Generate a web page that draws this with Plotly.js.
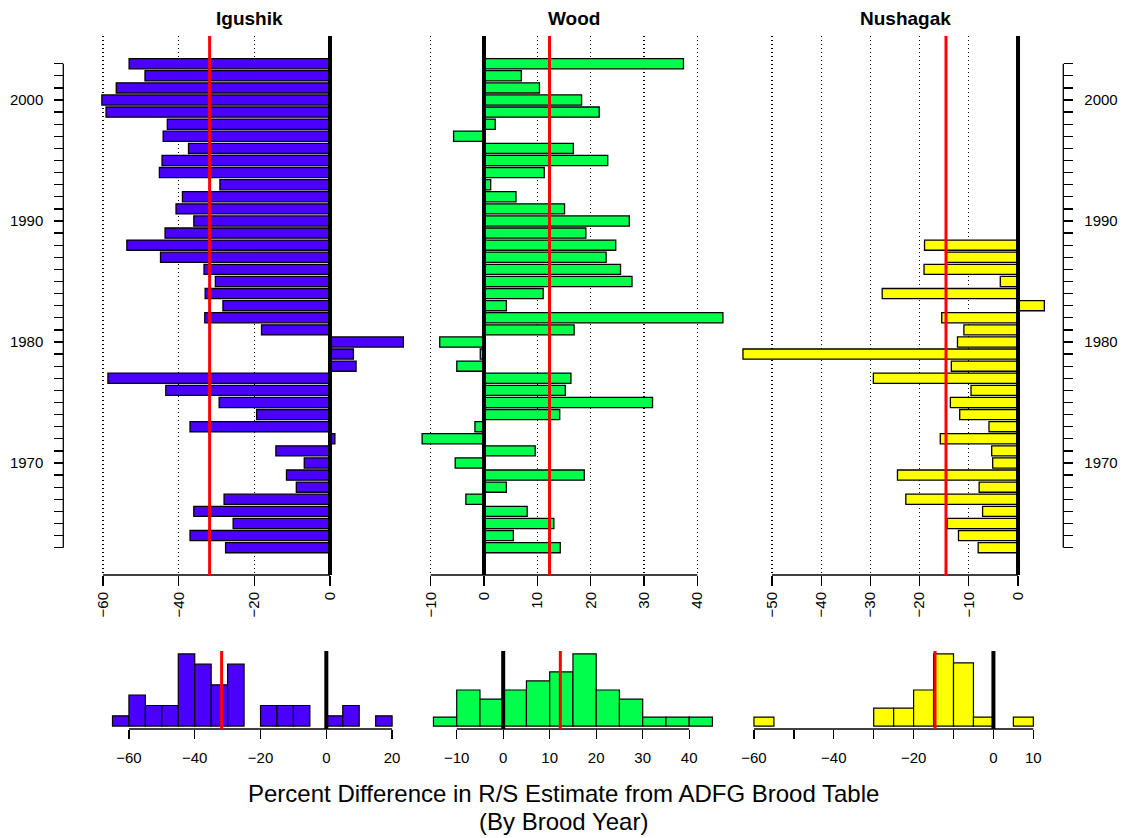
<!DOCTYPE html>
<html><head><meta charset="utf-8">
<script src="https://cdn.plot.ly/plotly-3.0.1.min.js"></script>
<style>body{margin:0;background:#fff;} #plot{width:1123px;height:838px;}</style>
</head><body><div id="plot"></div>
<script>
// ---- data (percent difference in R/S estimate by brood year) ----
const years = [2003,2002,2001,2000,1999,1998,1997,1996,1995,1994,1993,1992,1991,1990,1989,1988,1987,1986,1985,1984,1983,1982,1981,1980,1979,1978,1977,1976,1975,1974,1973,1972,1971,1970,1969,1968,1967,1966,1965,1964,1963];
const igushik = [-53.1,-48.9,-56.5,-60.3,-59.2,-43.0,-44.1,-37.4,-44.4,-45.1,-29.1,-39.0,-40.7,-36.0,-43.6,-53.7,-44.8,-33.3,-30.3,-33.0,-28.3,-33.1,-18.1,19.4,6.2,6.9,-58.7,-43.4,-29.3,-19.4,-37.0,1.3,-14.3,-6.8,-11.5,-8.9,-28.0,-36.0,-25.6,-37.0,-27.6];
const wood = [37.4,7.0,10.4,18.3,21.6,2.1,-5.7,16.75,23.2,11.3,1.25,6.0,15.1,27.25,19.1,24.7,22.9,25.6,27.75,11.1,4.2,44.8,16.9,-8.3,-0.7,-5.1,16.3,15.25,31.6,14.2,-1.7,-11.6,9.6,-5.4,18.8,4.2,-3.4,8.1,13.1,5.5,14.3];
const nushagakYears = [1988,1987,1986,1985,1984,1983,1982,1981,1980,1979,1978,1977,1976,1975,1974,1973,1972,1971,1970,1969,1968,1967,1966,1965,1964,1963];
const nushagak = [-19.0,-14.6,-19.1,-3.6,-27.6,5.35,-15.5,-11.0,-12.3,-55.9,-13.55,-29.4,-9.55,-13.75,-11.85,-5.9,-15.8,-5.35,-5.15,-24.5,-7.9,-22.8,-7.2,-14.4,-12.1,-8.1];
const panelTitles = ['Igushik','Wood','Nushagak'];
const yearLabels = [1970,1980,1990,2000];
const mainTicks = [[-60,-40,-20,0],[-10,0,10,20,30,40],[-50,-40,-30,-20,-10,0]];
const histTicks = [[-60,-40,-20,0,20],[-10,0,10,20,30,40],[-60,-50,-40,-30,-20,-10,0,10]];
const histTickText = [['\u221260','\u221240','\u221220','0','20'],['\u221210','0','10','20','30','40'],['\u221260','','\u221240','','\u221220','','0','10']];
const xLabel1 = 'Percent Difference in R/S Estimate from ADFG Brood Table';
const xLabel2 = '(By Brood Year)';

// ---- styling / layout helpers ----
const W = 1123, H = 838;
const px = v => v / W, py = v => 1 - v / H;
const colors = ['#4b00ff', '#00ff4d', '#ffff00'];
const FONT = 'Liberation Sans, Arial, Helvetica, sans-serif';
const mean = a => a.reduce((s, v) => s + v, 0) / a.length;
const series = [igushik, wood, nushagak];
const means = series.map(mean);

const mainTop = 36, mainBot = 575, histTop = 651, histBot = 729;

const traces = [
  {type:'bar', orientation:'h', x: igushik, y: years, xaxis:'x', yaxis:'y', width:0.84,
   marker:{color:colors[0], line:{color:'#000', width:1.3}}, hoverinfo:'skip'},
  {type:'bar', orientation:'h', x: wood, y: years, xaxis:'x2', yaxis:'y', width:0.84,
   marker:{color:colors[1], line:{color:'#000', width:1.3}}, hoverinfo:'skip'},
  {type:'bar', orientation:'h', x: nushagak, y: nushagakYears, xaxis:'x3', yaxis:'y2', width:0.84,
   marker:{color:colors[2], line:{color:'#000', width:1.3}}, hoverinfo:'skip'},
  {type:'histogram', x: igushik, xaxis:'x4', yaxis:'y3', autobinx:false, xbins:{start:-65,end:20,size:5},
   marker:{color:colors[0], line:{color:'#000', width:1.2}}, hoverinfo:'skip'},
  {type:'histogram', x: wood, xaxis:'x5', yaxis:'y4', autobinx:false, xbins:{start:-15,end:45,size:5},
   marker:{color:colors[1], line:{color:'#000', width:1.2}}, hoverinfo:'skip'},
  {type:'histogram', x: nushagak, xaxis:'x6', yaxis:'y5', autobinx:false, xbins:{start:-60,end:10,size:5},
   marker:{color:colors[2], line:{color:'#000', width:1.2}}, hoverinfo:'skip'}
];

const tickFont = {family: FONT, size: 15, color:'#000'};
function mainX(dom, range, ticks, anchor){
  return {domain:[px(dom[0]), px(dom[1])], range: range, anchor: anchor,
    tickmode:'array', tickvals: ticks, tickangle:-90, ticks:'outside', ticklen:10, tickwidth:1.3, tickcolor:'#000',
    showline:false, zeroline:false, showgrid:true, gridcolor:'#000', griddash:'1px,3px', gridwidth:1.2,
    tickfont: tickFont, fixedrange:true};
}
function histX(dom, range, ticks, text, anchor){
  return {domain:[px(dom[0]), px(dom[1])], range: range, anchor: anchor,
    tickmode:'array', tickvals: ticks, ticktext: text, ticks:'outside', ticklen:9, tickwidth:1.3, tickcolor:'#000',
    ticklabelstandoff: 6,
    showline:false, zeroline:false, showgrid:false, tickfont: tickFont, fixedrange:true};
}
const yearTickText = years.map(y => yearLabels.includes(y) ? String(y) : '');
const yRange = [1960.74, 2005.29];
function yearAxis(side, pos){
  return {domain:[py(mainBot), py(mainTop)], range: yRange, anchor:'free', position: px(pos), side: side,
    tickmode:'array', tickvals: years, ticktext: yearTickText, ticks:'outside', ticklen:9, tickwidth:1.3, tickcolor:'#000',
    ticklabelstandoff: 8,
    showline:false, zeroline:false, showgrid:false, tickfont: tickFont, fixedrange:true};
}
function histY(range){
  return {domain:[py(histBot), py(histTop)], range: range, visible:false, fixedrange:true};
}

const mainAxes = ['x','x2','x3'];
const histAxes = ['x4','x5','x6'];
const shapes = [];
// year axis lines
[63.3, 1063.3].forEach((xp, i) => shapes.push({type:'line', xref:'paper', yref: i===0?'y':'y2',
  x0:px(xp), x1:px(xp), y0: Math.min(...years), y1: Math.max(...years), line:{color:'#000', width:1.3}}));
mainAxes.forEach((ax, i) => {
  const t = mainTicks[i];
  shapes.push({type:'line', xref:ax, yref:'paper', x0:t[0], x1:t[t.length-1], y0:py(mainBot), y1:py(mainBot), line:{color:'#000', width:1.3}});
  shapes.push({type:'line', xref:ax, yref:'paper', x0:0, x1:0, y0:py(mainBot), y1:py(mainTop), line:{color:'#000', width:4}});
  shapes.push({type:'line', xref:ax, yref:'paper', x0:means[i], x1:means[i], y0:py(mainBot), y1:py(mainTop), line:{color:'#ff0000', width:3}});
});
histAxes.forEach((ax, i) => {
  const t = histTicks[i];
  shapes.push({type:'line', xref:ax, yref:'paper', x0:t[0], x1:t[t.length-1], y0:py(histBot), y1:py(histBot), line:{color:'#000', width:1.3}});
  shapes.push({type:'line', xref:ax, yref:'paper', x0:0, x1:0, y0:py(histBot), y1:py(histTop), line:{color:'#000', width:4}});
  shapes.push({type:'line', xref:ax, yref:'paper', x0:means[i], x1:means[i], y0:py(histBot), y1:py(histTop), line:{color:'#ff0000', width:3}});
});

const titleX = [249, 573.5, 905];
const annotations = panelTitles.map((t, i) => ({text:'<b>'+t+'</b>', xref:'paper', yref:'paper', x:px(titleX[i]), y:py(19),
  xanchor:'center', yanchor:'middle', showarrow:false, font:{family:FONT, size:19, color:'#000'}}));
annotations.push({text:xLabel1, xref:'paper', yref:'paper', x:px(563), y:py(793), xanchor:'center', yanchor:'middle',
  showarrow:false, font:{family:FONT, size:24, color:'#000'}});
annotations.push({text:xLabel2, xref:'paper', yref:'paper', x:px(563), y:py(821), xanchor:'center', yanchor:'middle',
  showarrow:false, font:{family:FONT, size:24, color:'#000'}});

const layout = {
  width:W, height:H, margin:{l:0, r:0, t:0, b:0}, paper_bgcolor:'#fff', plot_bgcolor:'rgba(0,0,0,0)',
  showlegend:false, bargap:0, font:{family:FONT, color:'#000'},
  xaxis: mainX([90,412], [-63.44, 21.68], mainTicks[0], 'y'),
  xaxis2: mainX([413,736], [-13.31, 47.25], mainTicks[1], 'y'),
  xaxis3: mainX([738,1056], [-56.91, 7.72], mainTicks[2], 'y2'),
  yaxis: yearAxis('left', 63.3),
  yaxis2: yearAxis('right', 1063.3),
  xaxis4: histX([101.3,403.3], [-68.4, 23.4], histTicks[0], histTickText[0], 'y3'),
  xaxis5: histX([422.3,723.6], [-17.4, 47.4], histTicks[1], histTickText[1], 'y4'),
  xaxis6: histX([742.8,1044.5], [-62.8, 12.8], histTicks[2], histTickText[2], 'y5'),
  yaxis3: histY([-0.28, 7.28]),
  yaxis4: histY([-0.32, 8.32]),
  yaxis5: histY([-0.32, 8.32]),
  shapes: shapes, annotations: annotations
};
Plotly.newPlot('plot', traces, layout, {staticPlot:true, displayModeBar:false});
</script>
</body></html>
